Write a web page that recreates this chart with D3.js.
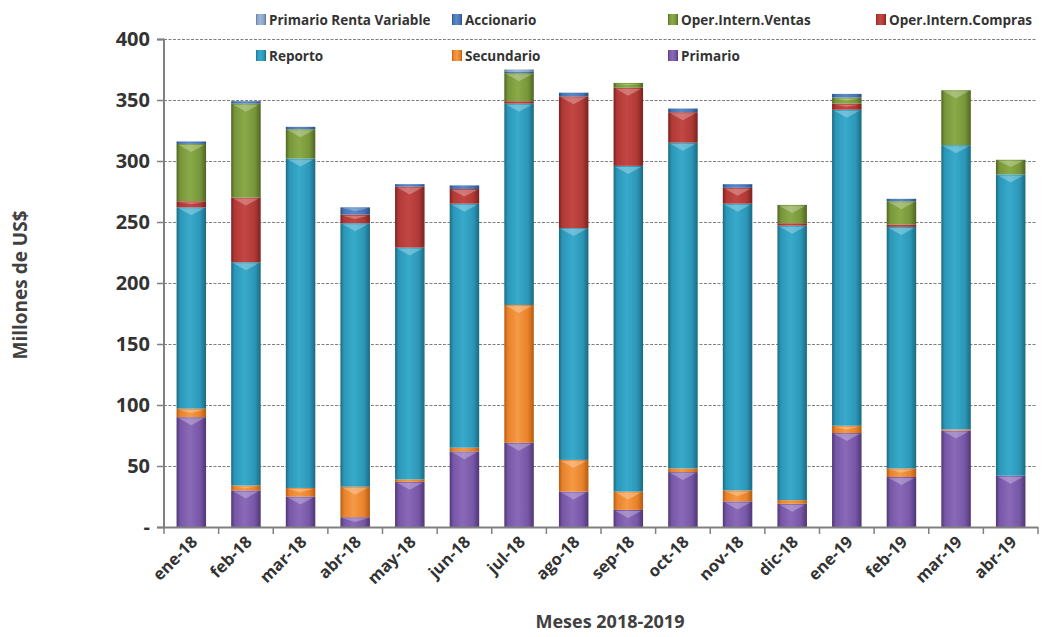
<!DOCTYPE html>
<html><head><meta charset="utf-8">
<script src="https://cdn.jsdelivr.net/npm/d3@7"></script>
<style>body{margin:0;background:#fff}text{font-family:"Open Sans",Lato,sans-serif}</style>
</head><body><svg id="c" width="1054" height="637"></svg>
<script>
const months = ["ene-18","feb-18","mar-18","abr-18","may-18","jun-18","jul-18","ago-18","sep-18","oct-18","nov-18","dic-18","ene-19","feb-19","mar-19","abr-19"];
const primario     = [90, 30, 25,  8, 37, 62,  69,  29,  14,  45, 21, 19,  77,  41,  79,  42];
const secundario   = [ 7,  4,  7, 25,  2,  3, 113,  26,  15,   3,  9,  3,   6,   7,   1,   0];
const reporto      = [165,183,270,216,190,200, 165, 190, 267, 267,235,225, 259, 198, 233, 247];
const operCompras  = [ 5, 53,  0,  7, 50, 12,   2, 108,  64,  25, 13,  2,   5,   2,   0,   0];
const operVentas   = [47, 77, 24,  0,  0,  0,  23,   0,   4,   0,  0, 15,   5,  19,  45,  12];
const accionario   = [ 2,  2,  2,  6,  2,  3,   1,   3,   0,   3,  3,  0,   3,   2,   0,   0];
const primarioRV   = [ 0,  0,  0,  0,  0,  0,   2,   0,   0,   0,  0,  0,   0,   0,   0,   0];
const yTicks = [0,50,100,150,200,250,300,350,400];

const seriesKeys = ["Primario","Secundario","Reporto","Oper.Intern.Compras","Oper.Intern.Ventas","Accionario","Primario Renta Variable"];
const seriesVals = [primario,secundario,reporto,operCompras,operVentas,accionario,primarioRV];
const colors = {
  "Primario":["#4f3674","#7656a6","#8a6ab8"],
  "Secundario":["#b65b12","#e8822a","#f59a45"],
  "Reporto":["#1b6a82","#2c97b8","#38aacb"],
  "Oper.Intern.Compras":["#7a2220","#b03936","#c34744"],
  "Oper.Intern.Ventas":["#4f6523","#77963a","#8aaa48"],
  "Accionario":["#2a4d80","#4575b5","#5a89c6"],
  "Primario Renta Variable":["#5d7394","#8aa2c6","#a0b6d6"]
};

const table = months.map((m,i)=>{const o={month:m};seriesKeys.forEach((k,j)=>o[k]=seriesVals[j][i]);return o;});
const stacked = d3.stack().keys(seriesKeys)(table);

const svg = d3.select("#c");
const defs = svg.append("defs");
seriesKeys.forEach((k,i)=>{
  const c = colors[k];
  const g = defs.append("linearGradient").attr("id","g"+i).attr("x1","0").attr("x2","1").attr("y1","0").attr("y2","0");
  [[0,c[0]],[0.12,c[1]],[0.45,c[2]],[0.8,c[1]],[1,c[0]]].forEach(s=>g.append("stop").attr("offset",s[0]).attr("stop-color",s[1]));
});

const x = d3.scaleBand().domain(months).range([164,1038]).paddingInner(0.46).paddingOuter(0.23);
const y = d3.scaleLinear().domain([0,400]).range([527,39]);

// gridlines
svg.append("g").selectAll("line").data(yTicks.filter(d=>d>0)).join("line")
  .attr("x1",164).attr("x2",1036).attr("y1",d=>y(d)+0.5).attr("y2",d=>y(d)+0.5)
  .attr("stroke","#808080").attr("stroke-width",1.2).attr("stroke-dasharray","3,1.5");

// bars
const layers = svg.append("g").selectAll("g").data(stacked).join("g")
  .attr("fill",(d,i)=>"url(#g"+i+")");
layers.selectAll("rect").data(d=>d.filter(p=>p[1]-p[0]>0)).join("rect")
  .attr("x",d=>x(d.data.month)).attr("width",x.bandwidth())
  .attr("y",d=>y(d[1])).attr("height",d=>y(d[0])-y(d[1]));
// top highlight
layers.each(function(layer,i){
  d3.select(this).selectAll("path.hl").data(layer.filter(p=>y(p[0])-y(p[1])>=4)).join("path").attr("class","hl")
    .attr("d",d=>{const x0=x(d.data.month),w=x.bandwidth(),t=y(d[1]),h=Math.min(8,(y(d[0])-y(d[1]))*0.5);
      return `M${x0+2},${t+1}L${x0+w-2},${t+1}L${x0+w*0.5},${t+h}Z`;})
    .attr("fill","#ffffff").attr("opacity",0.28);
});

// y axis
const ya = svg.append("g").attr("transform","translate(164,0)")
  .call(d3.axisLeft(y).tickValues(yTicks).tickSize(7).tickPadding(7).tickFormat(d=>d===0?"-":d));
ya.select(".domain").attr("stroke","#808080").attr("stroke-width",2).attr("d","M-7,39.5H0V527.5H-7");
ya.selectAll(".tick line").attr("stroke","#808080").attr("stroke-width",1.5);
ya.selectAll("text").attr("font-size",20).attr("font-weight","bold").attr("fill","#333").attr("font-family","'Open Sans', sans-serif");

// x axis
const xg = svg.append("g");
xg.append("line").attr("x1",164).attr("x2",1038).attr("y1",527.5).attr("y2",527.5).attr("stroke","#808080").attr("stroke-width",2);
xg.selectAll("line.t").data(d3.range(months.length+1)).join("line").attr("class","t")
  .attr("x1",i=>164+i*x.step()).attr("x2",i=>164+i*x.step()).attr("y1",527).attr("y2",534)
  .attr("stroke","#808080").attr("stroke-width",1.5);
xg.selectAll("text").data(months).join("text")
  .attr("transform",d=>`translate(${x(d)+x.bandwidth()/2+7},${543}) rotate(-45)`)
  .attr("text-anchor","end").attr("font-size",16.5).attr("font-weight","bold").attr("fill","#333").text(d=>d);

// titles
svg.append("text").attr("transform","translate(27,285) rotate(-90)").attr("text-anchor","middle")
  .attr("font-size",19).attr("font-weight","bold").attr("fill","#404040").text("Millones de US$");
svg.append("text").attr("x",610).attr("y",628).attr("text-anchor","middle")
  .attr("font-size",18).attr("font-weight","bold").attr("fill","#404040").text("Meses  2018-2019");

// legend
const legendItems = [
  ["Primario Renta Variable",256,20],["Accionario",452,20],["Oper.Intern.Ventas",668,20],["Oper.Intern.Compras",876,20],
  ["Reporto",256,56],["Secundario",452,56],["Primario",668,56]
];
const lg = svg.append("g").selectAll("g").data(legendItems).join("g").attr("transform",d=>`translate(${d[1]},${d[2]})`);
lg.append("rect").attr("x",0).attr("y",-6).attr("width",10).attr("height",11)
  .attr("fill",d=>"url(#g"+seriesKeys.indexOf(d[0])+")");
lg.append("text").attr("x",13).attr("y",5).attr("font-size",13.5).attr("font-weight","bold").attr("fill","#333").text(d=>d[0]);
</script></body></html>
